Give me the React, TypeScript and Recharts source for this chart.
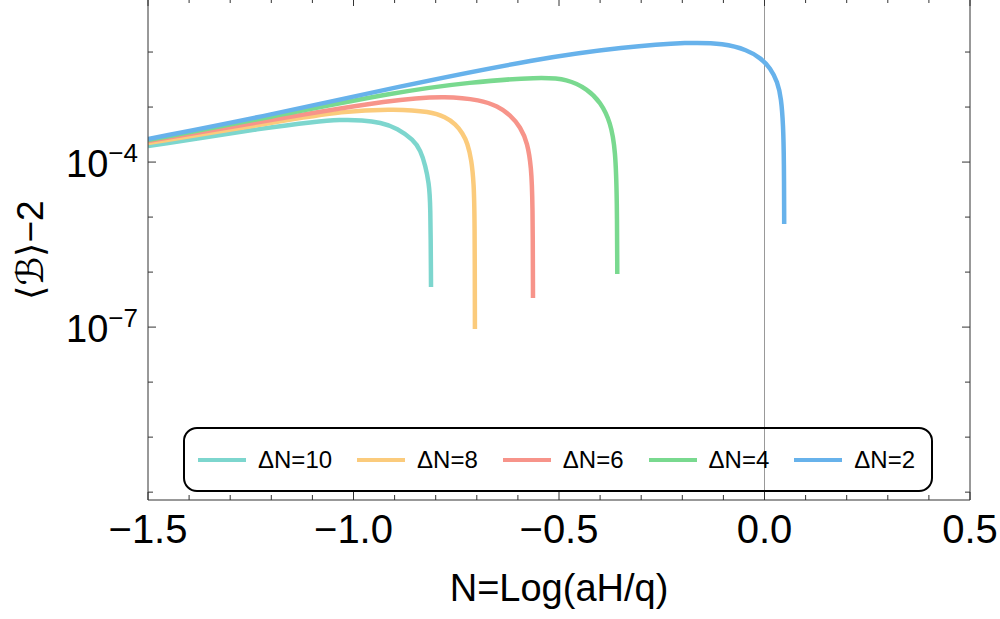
import { LineChart, Line, XAxis, YAxis, ReferenceLine, Legend } from 'recharts';

const FONT = '"Liberation Sans", Arial, Helvetica, sans-serif';

// Series names and colours (legend order)
const seriesNames = ['ΔN=10', 'ΔN=8', 'ΔN=6', 'ΔN=4', 'ΔN=2'];
const seriesColors = ['#7DD6CE', '#FBCB7C', '#F7948A', '#79D98F', '#67B2EB'];

// ΔN=10
const dn10N = [-1.5, -1.2019, -1.0998, -1.0316, -0.9781, -0.9343, -0.8929, -0.854, -0.837, -0.8248, -0.8168, -0.8127, -0.8114];
const dn10B = [1.95e-4, 4.33e-4, 5.34e-4, 5.93e-4, 5.8e-4, 5.23e-4, 4.15e-4, 2.51e-4, 1.65e-4, 8.46e-5, 4.15e-5, 2.04e-5, 5.34e-7];

// ΔN=8
const dn8N = [-1.5, -1.2019, -1.0195, -0.8978, -0.8127, -0.7762, -0.7518, -0.7348, -0.7226, -0.7129, -0.7073, -0.7051, -0.7046];
const dn8B = [2.22e-4, 5.12e-4, 8.64e-4, 9.2e-4, 8.28e-4, 6.58e-4, 4.91e-4, 3.37e-4, 2.22e-4, 1.09e-4, 4.15e-5, 1e-5, 9.2e-8];

// ΔN=6
const dn6N = [-1.5, -1.2019, -0.8978, -0.7713, -0.691, -0.6496, -0.618, -0.5937, -0.5766, -0.5676, -0.564, -0.5633];
const dn6B = [2.41e-4, 5.8e-4, 1.4e-3, 1.58e-3, 1.34e-3, 1.04e-3, 7.15e-4, 4.33e-4, 2.22e-4, 8.11e-5, 2.04e-5, 3.37e-7];

// ΔN=4
const dn4N = [-1.5, -1.2019, -0.8978, -0.7153, -0.545, -0.4793, -0.4307, -0.399, -0.3747, -0.3625, -0.3589, -0.3582];
const dn4B = [2.51e-4, 6.58e-4, 1.87e-3, 2.85e-3, 3.51e-3, 3.23e-3, 2.12e-3, 1.23e-3, 5.34e-4, 1.65e-4, 2.04e-5, 9.2e-7];

// ΔN=2
const dn2N = [-1.5, -1.2019, -0.8978, -0.545, -0.3431, -0.18, -0.0998, -0.0414, -0.0097, 0.0146, 0.0316, 0.0406, 0.0455, 0.0474, 0.0479];
const dn2B = [2.62e-4, 7.15e-4, 2.31e-3, 7.78e-3, 1.23e-2, 1.52e-2, 1.43e-2, 1.09e-2, 7.78e-3, 5.12e-3, 2.85e-3, 1.46e-3, 4.71e-4, 1.09e-4, 7.46e-6];

// Axis ticks
const xTicks = [-1.5, -1.4, -1.3, -1.2, -1.1, -1.0, -0.9, -0.8, -0.7, -0.6, -0.5, -0.4, -0.3, -0.2, -0.1, 0.0, 0.1, 0.2, 0.3, 0.4, 0.5];
const xMajor = [-1.5, -1.0, -0.5, 0.0, 0.5];
const yTicks = [1e-10, 1e-9, 1e-8, 1e-7, 1e-6, 1e-5, 1e-4, 1e-3, 1e-2];
const yLabeled = [-4, -7];

const toRows = (n: number[], b: number[]) => n.map((v, i) => ({ n: v, b: b[i] }));
const series = [
  toRows(dn10N, dn10B),
  toRows(dn8N, dn8B),
  toRows(dn6N, dn6B),
  toRows(dn4N, dn4B),
  toRows(dn2N, dn2B),
];

const fmtX = (v: number) => v.toFixed(1).replace('-', '\u2212');

// inward frame ticks, labels only on bottom/left
const FrameTick = (props: any) => {
  const { x, y, payload, side } = props;
  const v = payload.value;
  if (side === 'bottom' || side === 'top') {
    const major = xMajor.some((m) => Math.abs(m - v) < 1e-6);
    const len = major ? 8 : 5;
    const dir = side === 'bottom' ? -1 : 1;
    return (
      <g>
        <line x1={x} y1={y} x2={x} y2={y + dir * len} stroke="#333" strokeWidth={1} />
        {side === 'bottom' && major && (
          <text x={x} y={y + 43} textAnchor="middle" fontSize={40} fontFamily={FONT} fill="#000">
            {fmtX(v)}
          </text>
        )}
      </g>
    );
  }
  const exp = Math.round(Math.log10(v));
  const labeled = yLabeled.includes(exp);
  const len = labeled ? 8 : 5;
  const dir = side === 'left' ? 1 : -1;
  return (
    <g>
      <line x1={x} y1={y} x2={x + dir * len} y2={y} stroke="#333" strokeWidth={1} />
      {side === 'left' && labeled && (
        <text x={x - 10} y={y + 15} textAnchor="end" fontSize={38} fontFamily={FONT} fill="#000">
          10
          <tspan dy={-15} fontSize={26}>
            {'\u2212' + Math.abs(exp)}
          </tspan>
        </text>
      )}
    </g>
  );
};

const renderLegend = () => (
  <div
    style={{
      boxSizing: 'border-box',
      width: 750,
      height: 65,
      border: '2px solid #000',
      borderRadius: 14,
      display: 'flex',
      alignItems: 'center',
      paddingLeft: 13,
      gap: 25,
      fontFamily: FONT,
      fontSize: 24,
      color: '#000',
    }}
  >
    {seriesNames.map((name, i) => (
      <div key={name} style={{ display: 'flex', alignItems: 'center' }}>
        <span style={{ width: 48, height: 4, background: seriesColors[i], marginRight: 12, display: 'inline-block' }} />
        <span>{name}</span>
      </div>
    ))}
  </div>
);

export default function App() {
  return (
    <div style={{ position: 'absolute', left: 0, top: -10, width: 1000, height: 629, background: '#fff' }}>
      <LineChart width={1000} height={629} margin={{ top: 0, right: 0, bottom: 0, left: 0 }}>
        <XAxis
          dataKey="n"
          type="number"
          domain={[-1.5, 0.5]}
          ticks={xTicks}
          interval={0}
          allowDataOverflow
          height={119}
          tickSize={0}
          tickMargin={0}
          axisLine={{ stroke: '#333', strokeWidth: 1 }}
          tick={<FrameTick side="bottom" />}
          label={{
            content: () => (
              <text x={559} y={611} textAnchor="middle" fontSize={38} fontFamily={FONT} fill="#000">
                N=Log(aH/q)
              </text>
            ),
          }}
        />
        <XAxis
          xAxisId="top"
          orientation="top"
          dataKey="n"
          type="number"
          domain={[-1.5, 0.5]}
          ticks={xTicks}
          interval={0}
          allowDataOverflow
          height={8}
          tickSize={0}
          tickMargin={0}
          axisLine={{ stroke: '#333', strokeWidth: 1 }}
          tick={<FrameTick side="top" />}
        />
        <YAxis
          scale="log"
          type="number"
          domain={[7.2e-11, 0.096]}
          ticks={yTicks}
          interval={0}
          allowDataOverflow
          width={148}
          tickSize={0}
          tickMargin={0}
          axisLine={{ stroke: '#333', strokeWidth: 1 }}
          tick={<FrameTick side="left" />}
          label={{
            content: () => (
              <text
                x={43}
                y={260}
                transform="rotate(-90 43 260)"
                textAnchor="middle"
                fontSize={37}
                fontFamily={FONT}
                fill="#000"
              >
                ⟨<tspan fontFamily='"DejaVu Sans"' fontStyle="italic">ℬ</tspan>⟩−2
              </text>
            ),
          }}
        />
        <YAxis
          yAxisId="right"
          orientation="right"
          scale="log"
          type="number"
          domain={[7.2e-11, 0.096]}
          ticks={yTicks}
          interval={0}
          allowDataOverflow
          width={30}
          tickSize={0}
          tickMargin={0}
          axisLine={{ stroke: '#333', strokeWidth: 1 }}
          tick={<FrameTick side="right" />}
        />
        <ReferenceLine x={0} stroke="#999" strokeWidth={1} />
        {series.map((rows, i) => (
          <Line
            key={seriesNames[i]}
            data={rows}
            dataKey="b"
            name={seriesNames[i]}
            type="basis"
            stroke={seriesColors[i]}
            strokeWidth={4.5}
            dot={false}
            activeDot={false}
            isAnimationActive={false}
          />
        ))}
        <Legend
          layout="horizontal"
          verticalAlign="middle"
          align="center"
          content={renderLegend}
          wrapperStyle={{ left: 183, top: 437, width: 750, height: 65 }}
        />
      </LineChart>
    </div>
  );
}
